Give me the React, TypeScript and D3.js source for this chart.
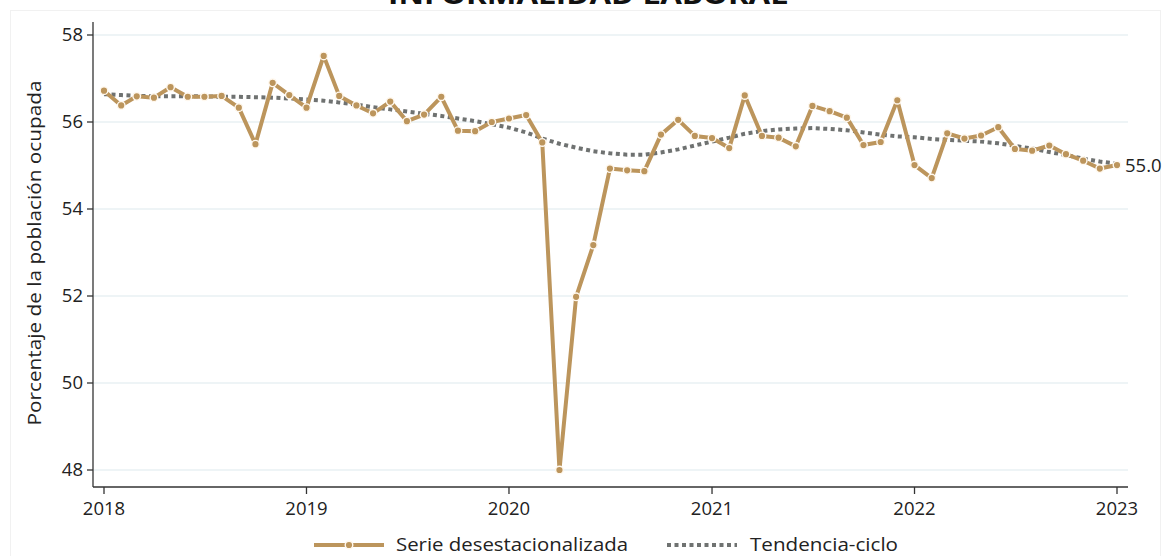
import React from "react";
import * as d3 from "d3";

const startYear = 2018;
const serieValues: number[] = [
  56.72, 56.38, 56.59, 56.56, 56.8, 56.58, 56.58, 56.6, 56.33, 55.49, 56.9, 56.62,
  56.33, 57.52, 56.6, 56.38, 56.2, 56.47, 56.02, 56.17, 56.58, 55.8, 55.79, 56.0,
  56.08, 56.16, 55.53, 48.0, 51.98, 53.17, 54.93, 54.89, 54.87, 55.71, 56.05, 55.68,
  55.63, 55.4, 56.61, 55.68, 55.64, 55.44, 56.37, 56.25, 56.1, 55.47, 55.54, 56.5,
  55.01, 54.71, 55.74, 55.62, 55.69, 55.88, 55.38, 55.34, 55.46, 55.26, 55.11, 54.93,
  55.01,
];
const trendValues: number[] = [
  56.64, 56.62, 56.6, 56.59, 56.59, 56.59, 56.59, 56.58, 56.58, 56.57, 56.56, 56.54,
  56.52, 56.49, 56.45, 56.4, 56.34, 56.29, 56.24, 56.19, 56.14, 56.08, 56.02, 55.95,
  55.87, 55.76, 55.62, 55.5, 55.41, 55.33, 55.28, 55.25, 55.25, 55.3, 55.37, 55.46,
  55.55, 55.64, 55.73, 55.79, 55.83, 55.85, 55.86, 55.84, 55.81, 55.76, 55.71, 55.67,
  55.65, 55.61, 55.59, 55.57, 55.55, 55.51, 55.45, 55.39, 55.31, 55.24, 55.16, 55.09,
  55.04,
];
const yTicks: number[] = [48, 50, 52, 54, 56, 58];
const xTickYears: number[] = [2018, 2019, 2020, 2021, 2022, 2023];
const title = "INFORMALIDAD LABORAL";
const yLabel = "Porcentaje de la población ocupada";
const legendLabels = ["Serie desestacionalizada", "Tendencia-ciclo"];
const endLabel = "55.0";

const GOLD = "#bc955c";
const GREY = "#6f7271";
const FONT = "'Open Sans', 'Noto Sans', sans-serif";

const dateOf = (i: number) => new Date(startYear, i, 1);

export default function App() {
  const W = 1169;
  const H = 556;
  const x = d3
    .scaleTime()
    .domain([new Date(2018, 0, 1), new Date(2023, 0, 1)])
    .range([104, 1117]);
  const y = d3.scaleLinear().domain([48, 58]).range([470, 35]);
  const axisLeft = 93;
  const axisRight = 1128;
  const axisBottom = 487;
  const axisTop = 22;

  const line = d3
    .line<number>()
    .x((_, i) => x(dateOf(i)))
    .y((v) => y(v));

  const lastIdx = serieValues.length - 1;

  return (
    <>
      <style>{`body{margin:0}`}</style>
      <svg width={W} height={H} style={{ display: "block", background: "#fff" }} fontFamily={FONT}>
        <rect x={10.5} y={10.5} width={1150} height={560} fill="none" stroke="#f1f1f1" />
        <text
          x={588}
          y={4}
          textAnchor="middle"
          fontSize={27}
          fontWeight={700}
          fill="#111"
          textLength={400}
          lengthAdjust="spacingAndGlyphs"
        >
          {title}
        </text>
        {yTicks.map((t) => (
          <line
            key={"g" + t}
            x1={axisLeft}
            x2={axisRight}
            y1={y(t)}
            y2={y(t)}
            stroke="#e8f0f3"
            strokeWidth={1.5}
          />
        ))}
        <line x1={axisLeft} x2={axisLeft} y1={axisTop} y2={axisBottom} stroke="#333" strokeWidth={1.3} />
        <line x1={axisLeft} x2={axisRight} y1={axisBottom} y2={axisBottom} stroke="#333" strokeWidth={1.3} />
        {yTicks.map((t) => (
          <g key={"yt" + t}>
            <line x1={axisLeft - 6} x2={axisLeft} y1={y(t)} y2={y(t)} stroke="#333" strokeWidth={1.3} />
            <text x={axisLeft - 10} y={y(t)} dy="0.35em" textAnchor="end" fontSize={18.5} fill="#222">
              {t}
            </text>
          </g>
        ))}
        {xTickYears.map((yr) => {
          const px = x(new Date(yr, 0, 1));
          return (
            <g key={"xt" + yr}>
              <line x1={px} x2={px} y1={axisBottom} y2={axisBottom + 7} stroke="#333" strokeWidth={1.3} />
              <text x={px} y={515} textAnchor="middle" fontSize={18.5} fill="#222">
                {yr}
              </text>
            </g>
          );
        })}
        <text
          transform={`translate(41,253) rotate(-90)`}
          textAnchor="middle"
          fontSize={17.5}
          fill="#222"
          textLength={345}
          lengthAdjust="spacingAndGlyphs"
        >
          {yLabel}
        </text>
        <path d={line(trendValues) || ""} fill="none" stroke={GREY} strokeWidth={4} strokeDasharray="4 3.5" />
        <path d={line(serieValues) || ""} fill="none" stroke={GOLD} strokeWidth={4} strokeLinejoin="round" />
        {serieValues.map((v, i) => (
          <circle
            key={"p" + i}
            cx={x(dateOf(i))}
            cy={y(v)}
            r={3.8}
            fill={GOLD}
            stroke="#fff8ee"
            strokeWidth={1.4}
          />
        ))}
        <text x={x(dateOf(lastIdx)) + 8} y={y(serieValues[lastIdx])} dy="0.35em" fontSize={18.5} fill="#222">
          {endLabel}
        </text>
        <g>
          <line x1={314} x2={384} y1={545} y2={545} stroke={GOLD} strokeWidth={4} />
          <circle cx={349} cy={545} r={3.8} fill={GOLD} stroke="#fff8ee" strokeWidth={1.4} />
          <text
            x={396}
            y={545}
            dy="0.35em"
            fontSize={18}
            fill="#222"
            textLength={232}
            lengthAdjust="spacingAndGlyphs"
          >
            {legendLabels[0]}
          </text>
          <line x1={667} x2={737} y1={545} y2={545} stroke={GREY} strokeWidth={4} strokeDasharray="4 3.5" />
          <text
            x={750}
            y={545}
            dy="0.35em"
            fontSize={18}
            fill="#222"
            textLength={148}
            lengthAdjust="spacingAndGlyphs"
          >
            {legendLabels[1]}
          </text>
        </g>
      </svg>
    </>
  );
}
